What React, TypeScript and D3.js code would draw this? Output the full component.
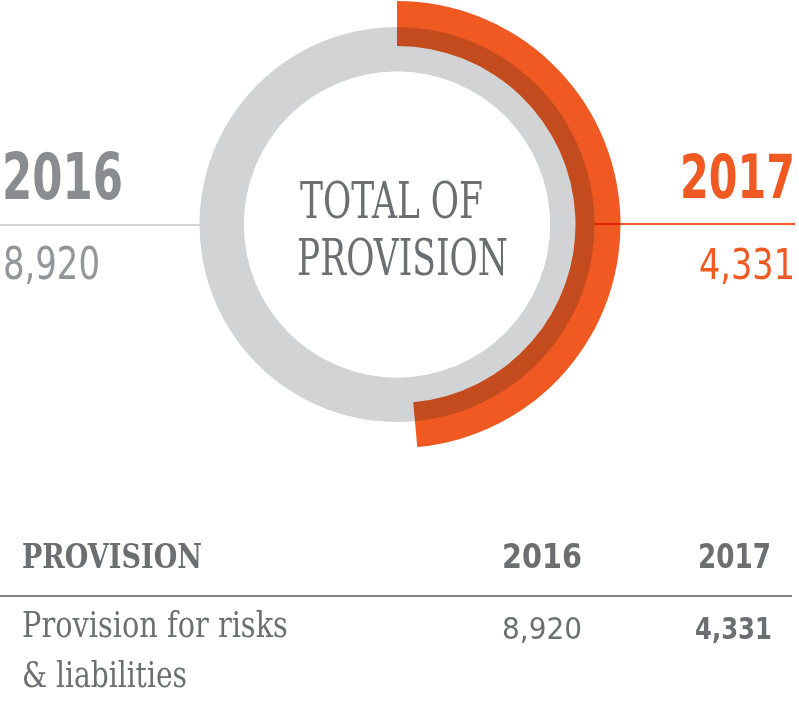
import React, { useLayoutEffect, useRef, useState } from "react";
import * as d3 from "d3";

const years: string[] = ["2016", "2017"];
const values: number[] = [8920, 4331];
const centerLabel: string[] = ["TOTAL OF", "PROVISION"];
const tableHeader: string[] = ["PROVISION", "2016", "2017"];
const rowLabel: string[] = ["Provision for risks", "& liabilities"];

const W = 799;
const H = 712;
const ORANGE = "#f05a22";
const GREY_RING = "#d1d3d4";
const TEXT = "#6d6e71";
const SANS = "'Liberation Sans Narrow', 'DejaVu Sans Condensed', 'Roboto Condensed', sans-serif";
const SLAB = "'DejaVu Serif Condensed', 'DejaVu Serif', serif";

type TProps = {
  x: number; y: number; w: number; size: number; fill: string; family: string;
  weight?: number | string; anchor?: "start" | "end" | "middle"; children: string;
};
const T = ({ x, y, w, size, fill, family, weight = 400, anchor = "start", children }: TProps) => {
  const ref = useRef<SVGTextElement>(null);
  const [s, setS] = useState(1);
  useLayoutEffect(() => {
    if (ref.current) {
      const len = ref.current.getComputedTextLength();
      if (len > 0) setS(w / len);
    }
  }, [w, size, family, children]);
  const left = anchor === "end" ? x - w : anchor === "middle" ? x - w / 2 : x;
  return (
    <g transform={`translate(${left},${y}) scale(${s},1)`}>
      <text ref={ref} x={0} y={0} fontSize={size} fill={fill} fontFamily={family} fontWeight={weight}>
        {children}
      </text>
    </g>
  );
};

export default function App() {
  const cx = 397;
  const cy = 224.5;
  const angle = d3.scaleLinear().domain([0, values[0]]).range([0, 2 * Math.PI]);
  const greyArc = d3.arc<any>().innerRadius(153).outerRadius(197.5).startAngle(0).endAngle(angle(values[0]));
  const orangeArc = d3.arc<any>().innerRadius(178.5).outerRadius(223.5).startAngle(0).endAngle(angle(values[1]));
  const fmt = d3.format(",");

  return (
    <svg width={W} height={H} style={{ position: "absolute", left: 0, top: 0, background: "#fff" }}>
      <line x1={0} x2={cx} y1={225} y2={225} stroke={GREY_RING} strokeWidth={2} />
      <line x1={cx} x2={795} y1={224} y2={224} stroke={ORANGE} strokeWidth={2} />
      <g transform={`translate(${cx},${cy})`}>
        <path d={greyArc(null) as string} fill={GREY_RING} />
        <circle r={153} fill="#fff" />
        <path d={orangeArc(null) as string} fill={ORANGE} style={{ mixBlendMode: "multiply" }} />
      </g>
      <T x={391.5} y={218} w={183} size={50} fill={TEXT} family={SLAB} anchor="middle">{centerLabel[0]}</T>
      <T x={402.5} y={275} w={211} size={51} fill={TEXT} family={SLAB} anchor="middle">{centerLabel[1]}</T>
      <T x={2} y={199} w={121} size={64} fill="#8a8c8f" family={SANS} weight={700}>{years[0]}</T>
      <T x={3} y={279} w={97} size={44} fill="#939598" family={SANS}>{fmt(values[0])}</T>
      <T x={795} y={198} w={115} size={60} fill={ORANGE} family={SANS} weight={700} anchor="end">{years[1]}</T>
      <T x={795} y={279} w={96} size={43} fill={ORANGE} family={SANS} anchor="end">{fmt(values[1])}</T>
      <T x={22} y={568} w={180} size={34} fill={TEXT} family={SLAB} weight={700}>{tableHeader[0]}</T>
      <T x={582} y={567.5} w={80} size={34} fill={TEXT} family={SANS} weight={700} anchor="end">{tableHeader[1]}</T>
      <T x={771} y={567.5} w={73} size={34} fill={TEXT} family={SANS} weight={700} anchor="end">{tableHeader[2]}</T>
      <line x1={0} x2={792} y1={596} y2={596} stroke="#808285" strokeWidth={2} />
      <T x={22} y={637} w={266} size={35} fill={TEXT} family={SLAB}>{rowLabel[0]}</T>
      <T x={22} y={687} w={165} size={35} fill={TEXT} family={SLAB}>{rowLabel[1]}</T>
      <T x={582} y={638.5} w={80} size={31} fill={TEXT} family={SANS} anchor="end">{fmt(values[0])}</T>
      <T x={772} y={638.5} w={77} size={31} fill={TEXT} family={SANS} weight={700} anchor="end">{fmt(values[1])}</T>
    </svg>
  );
}
